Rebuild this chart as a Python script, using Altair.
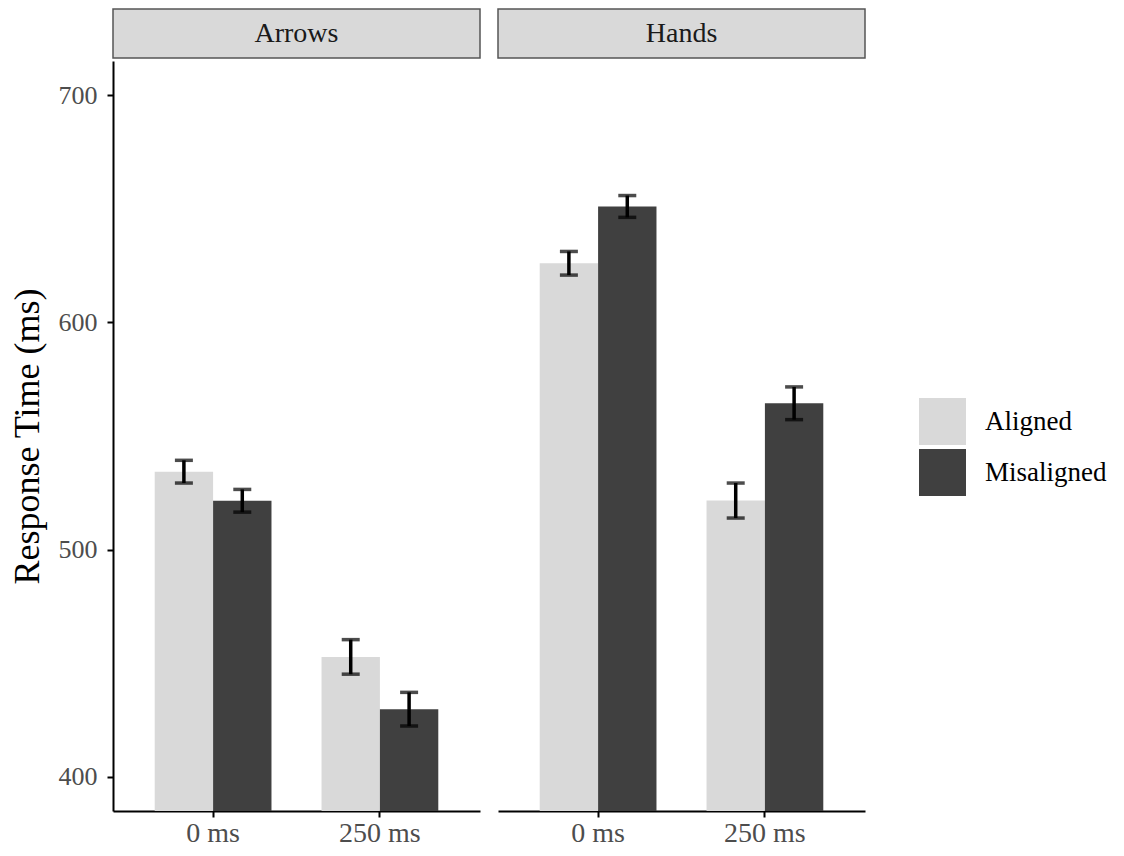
import altair as alt
import pandas as pd

panels = ["Arrows", "Hands"]
delays = ["0 ms", "0 ms", "250 ms", "250 ms"]
conditions = ["Aligned", "Misaligned", "Aligned", "Misaligned"]
arrows_rt = [534.3, 521.5, 452.8, 429.8]
arrows_se = [5.0, 5.0, 7.6, 7.4]
hands_rt = [626.0, 651.0, 521.6, 564.4]
hands_se = [5.2, 4.8, 7.7, 7.2]

FONT = "Liberation Serif"
PANEL_W = 367
PANEL_H = 750
STRIP_H = 49
YDOM = [385, 715]

def make_df(rt, se):
    return pd.DataFrame({
        "delay": delays,
        "condition": conditions,
        "rt": rt,
        "lo": [r - s for r, s in zip(rt, se)],
        "hi": [r + s for r, s in zip(rt, se)],
    })

data = {"Arrows": make_df(arrows_rt, arrows_se), "Hands": make_df(hands_rt, hands_se)}

color_scale = alt.Scale(domain=["Aligned", "Misaligned"], range=["#D9D9D9", "#404040"])

def panel(name, show_y):
    df = data[name]
    x = alt.X("delay:N", title=None, sort=["0 ms", "250 ms"],
              scale=alt.Scale(paddingInner=0.3, paddingOuter=0.25),
              axis=alt.Axis(labelAngle=0, labelFontSize=28, labelColor="#4D4D4D", labelFont=FONT,
                            domainColor="#000000", domainWidth=2, tickColor="#000000",
                            tickWidth=2, tickSize=6, labelPadding=2))
    xo = alt.XOffset("condition:N", scale=alt.Scale(paddingInner=0, paddingOuter=0))
    if show_y:
        yaxis = alt.Axis(values=[400, 500, 600, 700], title="Response Time (ms)", titleFontSize=36,
                         titleFont=FONT, titleFontWeight="normal", titleColor="#000000",
                         labelFontSize=26, labelColor="#4D4D4D", labelFont=FONT, grid=False,
                         domainColor="#000000", domainWidth=2, tickColor="#000000", tickWidth=2,
                         tickSize=6, labelPadding=10, titlePadding=12)
    else:
        yaxis = None
    yscale = alt.Scale(domain=YDOM, nice=False, zero=False)
    base = alt.Chart(df)
    bars = base.mark_bar(clip=True).encode(
        x=x, xOffset=xo,
        y=alt.Y("rt:Q", scale=yscale, axis=yaxis),
        color=alt.Color("condition:N", scale=color_scale,
                        legend=alt.Legend(title=None, orient="none", legendX=806, legendY=389,
                                          symbolType="square", symbolSize=2209, symbolStrokeWidth=0,
                                          labelFontSize=27, labelFont=FONT, labelColor="#000000",
                                          rowPadding=4, labelOffset=19, padding=0)),
    )
    rules = base.mark_rule(color="#000000", strokeWidth=3.5).encode(
        x=x, xOffset=xo, y=alt.Y("lo:Q", scale=yscale), y2="hi:Q")
    cap_lo = base.mark_tick(color="#000000", thickness=3.5, size=18).encode(
        x=x, xOffset=xo, y=alt.Y("lo:Q", scale=yscale))
    cap_hi = base.mark_tick(color="#000000", thickness=3.5, size=18).encode(
        x=x, xOffset=xo, y=alt.Y("hi:Q", scale=yscale))
    main = alt.layer(bars, rules, cap_lo, cap_hi).properties(
        width=PANEL_W, height=PANEL_H, view=alt.ViewBackground(stroke="transparent"))
    strip = alt.Chart(pd.DataFrame({"panel": [name]})).mark_text(
        font=FONT, fontSize=28, color="#1A1A1A").encode(text="panel:N").properties(
        width=PANEL_W, height=STRIP_H,
        view=alt.ViewBackground(fill="#D9D9D9", stroke="#555555", strokeWidth=1.5))
    return alt.vconcat(strip, main, spacing=1)

chart = alt.hconcat(panel("Arrows", True), panel("Hands", False), spacing=16).properties(
    padding=0
).configure(font=FONT).configure_view(stroke="transparent")

chart.save("out.html", embed_options={"renderer": "svg", "actions": False})
